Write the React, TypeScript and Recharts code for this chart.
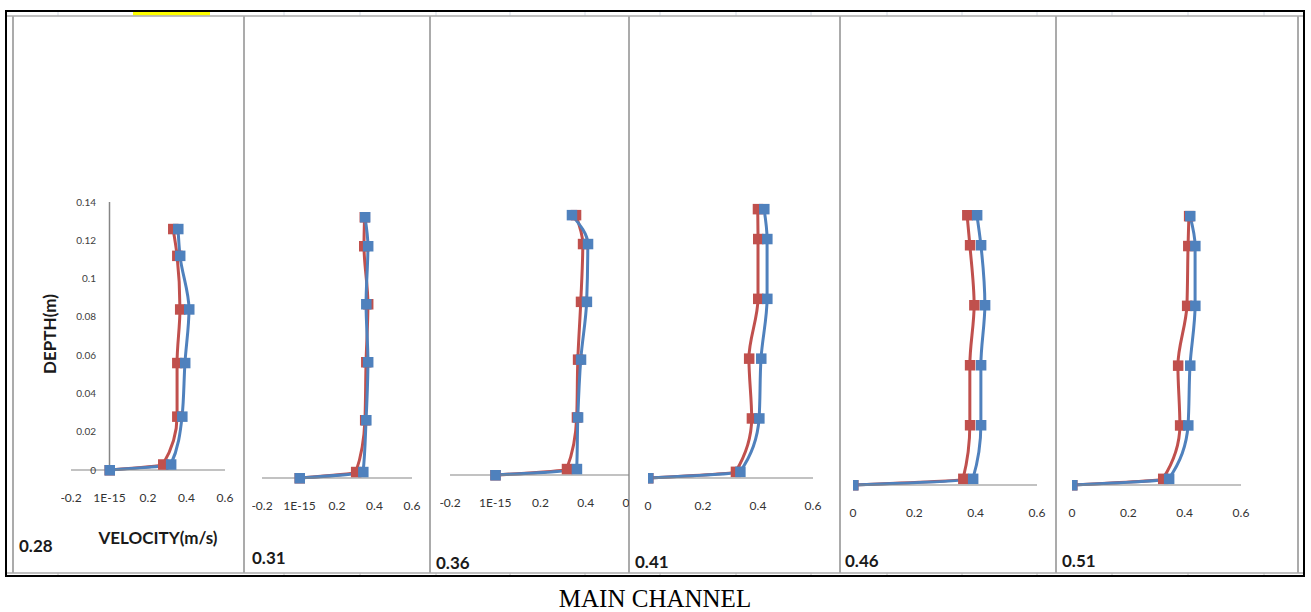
import React from "react";
import { LineChart, Line, XAxis, YAxis, ReferenceLine } from "recharts";

// flow depths (m), same for every section
const depth = [0, 0.003, 0.028, 0.056, 0.084, 0.112, 0.126];

const panelLabels = ["0.28", "0.31", "0.36", "0.41", "0.46", "0.51"];

// velocity (m/s) per section, red and blue profiles
const red28 = [0, 0.278, 0.351, 0.351, 0.366, 0.351, 0.33];
const blue28 = [0, 0.319, 0.377, 0.392, 0.413, 0.366, 0.356];
const red31 = [0, 0.301, 0.349, 0.355, 0.365, 0.344, 0.347];
const blue31 = [0, 0.339, 0.355, 0.365, 0.355, 0.365, 0.349];
const red36 = [0, 0.316, 0.36, 0.365, 0.378, 0.387, 0.356];
const blue36 = [0, 0.36, 0.365, 0.378, 0.404, 0.409, 0.338];
const red41 = [0, 0.319, 0.377, 0.367, 0.4, 0.4, 0.399];
const blue41 = [0, 0.335, 0.404, 0.411, 0.433, 0.433, 0.422];
const red46 = [0, 0.359, 0.381, 0.381, 0.395, 0.381, 0.372];
const blue46 = [0, 0.391, 0.417, 0.417, 0.43, 0.417, 0.404];
const red51 = [0, 0.323, 0.383, 0.376, 0.408, 0.412, 0.415];
const blue51 = [0, 0.344, 0.412, 0.419, 0.437, 0.437, 0.419];

const velTicksNeg = [-0.2, 0, 0.2, 0.4, 0.6];
const velLabelsNeg = ["-0.2", "1E-15", "0.2", "0.4", "0.6"];
const velTicksPos = [0, 0.2, 0.4, 0.6];
const velLabelsPos = ["0", "0.2", "0.4", "0.6"];
const depthTicks = [0, 0.02, 0.04, 0.06, 0.08, 0.1, 0.12, 0.14];

const RED = "#C0504D";
const BLUE = "#4F81BD";
const AXIS = "#868686";
const GRID = "#ababab";
const FONT = "Lato, 'Open Sans', sans-serif";

const PANEL_TOP = 17;
const PANEL_BOTTOM = 573;

const panels = [
  { red: red28, blue: blue28, ticks: velTicksNeg, tickLabels: velLabelsNeg, left: 13, right: 244, plotL: 71, plotR: 225, y0: 470, yTop: 202, labelX: 19, labelY: 545, depthAxis: true },
  { red: red31, blue: blue31, ticks: velTicksNeg, tickLabels: velLabelsNeg, left: 244, right: 430, plotL: 262, plotR: 412, y0: 478, yTop: 188, labelX: 252, labelY: 557, depthAxis: false },
  { red: red36, blue: blue36, ticks: velTicksNeg, tickLabels: velLabelsNeg, left: 430, right: 629, plotL: 450, plotR: 631, y0: 475, yTop: 186, labelX: 436, labelY: 562, depthAxis: false },
  { red: red41, blue: blue41, ticks: velTicksPos, tickLabels: velLabelsPos, left: 629, right: 840, plotL: 648, plotR: 813, y0: 478, yTop: 179, labelX: 635, labelY: 561, depthAxis: false },
  { red: red46, blue: blue46, ticks: velTicksPos, tickLabels: velLabelsPos, left: 840, right: 1056, plotL: 853, plotR: 1037, y0: 485, yTop: 185, labelX: 845, labelY: 560, depthAxis: false },
  { red: red51, blue: blue51, ticks: velTicksPos, tickLabels: velLabelsPos, left: 1056, right: 1298, plotL: 1072, plotR: 1241, y0: 485, yTop: 186, labelX: 1062, labelY: 560, depthAxis: false },
];

const dividers = [13, 244, 430, 629, 840, 1056, 1298];
const columnMarks = [58, 284, 360, 436, 510, 585, 660, 736, 811, 887, 962, 1037, 1112, 1188, 1264];

const squareDot = (color: string) => (props: any) => {
  const { cx, cy, index } = props;
  if (cx == null || cy == null) return <g key={`e-${index}`} />;
  return <rect key={`s-${index}`} x={cx - 5} y={cy - 5} width={10.5} height={10.5} fill={color} />;
};

const depthTick = (props: any) => (
  <text
    x={props.x + 33}
    y={props.y}
    dy={3.5}
    textAnchor="end"
    fontSize={10}
    fontFamily={FONT}
    fill="#404040"
  >
    {props.payload.value}
  </text>
);

function Panel({ p }: { p: (typeof panels)[number] }) {
  const rows = depth.map((d, i) => ({ depth: d, red: p.red[i], blue: p.blue[i] }));
  const w = p.plotR - p.plotL + 20;
  const h = p.y0 - p.yTop + 50;
  const minX = p.ticks[0];
  const fmt = (v: number) => {
    const k = p.ticks.indexOf(v);
    return k >= 0 ? p.tickLabels[k] : String(v);
  };
  return (
    <div
      style={{
        position: "absolute",
        left: p.left,
        top: PANEL_TOP,
        width: p.right - p.left,
        height: PANEL_BOTTOM - PANEL_TOP,
        overflow: "hidden",
      }}
    >
      <div style={{ position: "absolute", left: p.plotL - 10 - p.left, top: p.yTop - 10 - PANEL_TOP }}>
        <LineChart
          width={w}
          height={h}
          data={rows}
          layout="vertical"
          margin={{ top: 10, right: 10, bottom: 0, left: p.depthAxis ? 9 : 10 }}
        >
          <XAxis
            type="number"
            domain={[minX, 0.6]}
            ticks={p.ticks}
            interval={0}
            allowDataOverflow
            height={40}
            tickLine={false}
            tickMargin={17}
            axisLine={{ stroke: AXIS, strokeWidth: 1.2 }}
            tickFormatter={fmt}
            tick={{ fill: "#333", fontSize: 12, fontFamily: FONT }}
          />
          <YAxis
            type="number"
            dataKey="depth"
            domain={[0, 0.14]}
            reversed
            ticks={depthTicks}
            interval={0}
            width={p.depthAxis ? 1 : 0}
            hide={!p.depthAxis}
            axisLine={false}
            tickLine={false}
            tick={depthTick}
          />
          {p.depthAxis && <ReferenceLine x={0} stroke={AXIS} strokeWidth={1.5} />}
          <Line
            dataKey="red"
            type="monotoneY"
            stroke={RED}
            strokeWidth={3}
            dot={squareDot(RED)}
            isAnimationActive={false}
          />
          <Line
            dataKey="blue"
            type="monotoneY"
            stroke={BLUE}
            strokeWidth={3}
            dot={squareDot(BLUE)}
            isAnimationActive={false}
          />
        </LineChart>
      </div>
    </div>
  );
}

export default function App() {
  return (
    <div style={{ position: "absolute", left: 0, top: 0, width: 1311, height: 612, background: "#fff" }}>
      <svg width={1311} height={612} style={{ position: "absolute", left: 0, top: 0 }}>
        {columnMarks.map((x) => (
          <line key={`t${x}`} x1={x} x2={x} y1={12} y2={16} stroke="#d4dbe6" />
        ))}
        {columnMarks.map((x) => (
          <line key={`b${x}`} x1={x} x2={x} y1={573} y2={575} stroke="#c8c8c8" />
        ))}
        <rect x={133} y={12} width={77} height={3.5} fill="#ffff00" />
        <line x1={7} x2={1304} y1={16} y2={16} stroke={GRID} strokeWidth={1.5} />
        <line x1={7} x2={1304} y1={573} y2={573} stroke={GRID} strokeWidth={1.5} />
        {dividers.map((x) => (
          <line key={`d${x}`} x1={x} x2={x} y1={16} y2={573} stroke={GRID} strokeWidth={2} />
        ))}
        <rect x={6} y={11} width={1298} height={565} fill="none" stroke="#000" strokeWidth={2} />
        {panels.map((p, i) => (
          <text
            key={`l${i}`}
            x={p.labelX}
            y={p.labelY}
            dominantBaseline="central"
            fontSize={17}
            fontWeight="bold"
            fontFamily={FONT}
            fill="#1a1a1a"
          >
            {panelLabels[i]}
          </text>
        ))}
        <text
          x={158}
          y={537}
          textAnchor="middle"
          dominantBaseline="central"
          fontSize={17}
          fontWeight="bold"
          fontFamily={FONT}
          fill="#1a1a1a"
        >
          VELOCITY(m/s)
        </text>
        <text
          x={49}
          y={334}
          transform="rotate(-90 49 334)"
          textAnchor="middle"
          dominantBaseline="central"
          fontSize={17}
          fontWeight="bold"
          fontFamily={FONT}
          fill="#1a1a1a"
        >
          DEPTH(m)
        </text>
        <text
          x={655}
          y={607}
          textAnchor="middle"
          fontSize={25}
          fontFamily="'Liberation Serif', 'Times New Roman', serif"
          fill="#000"
        >
          MAIN CHANNEL
        </text>
      </svg>
      {panels.map((p, i) => (
        <Panel key={i} p={p} />
      ))}
    </div>
  );
}
